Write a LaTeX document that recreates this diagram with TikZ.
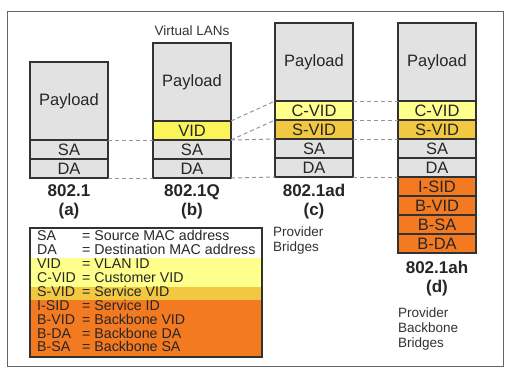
\documentclass[tikz,border=0pt]{standalone}
\usepackage{fontspec}
\setmainfont{Liberation Sans}
\usepackage{tikz}
\usetikzlibrary{positioning}
\definecolor{framegray}{RGB}{100,100,100}
\definecolor{edgegray}{RGB}{50,50,50}
\definecolor{payloadgray}{RGB}{226,226,226}
\definecolor{vidyellow}{RGB}{250,244,90}
\definecolor{cvidyellow}{RGB}{255,255,140}
\definecolor{svidgold}{RGB}{242,200,66}
\definecolor{backboneorange}{RGB}{244,122,34}
\definecolor{dashgray}{RGB}{150,150,150}

\begin{document}
\begin{tikzpicture}[x=1pt, y=-1pt,
    field/.style={draw=edgegray, line width=1.2pt, minimum width=78pt, minimum height=19pt,
      inner sep=0pt, outer sep=0pt, font=\fontsize{16.5}{16.5}\selectfont, text=black!85},
    payload/.style={field, fill=payloadgray, minimum height=78pt},
    hdr/.style={field, fill=payloadgray},
    link/.style={dashgray, dash pattern=on 4pt off 3pt, line width=1pt},
    stdlabel/.style={font=\fontsize{17}{19}\selectfont\bfseries, align=center, inner sep=0pt, text=black!85},
    note/.style={font=\fontsize{13.5}{15}\selectfont, align=left, inner sep=0pt, text=black!80},
    legendtxt/.style={font=\fontsize{14.2}{14}\selectfont, inner sep=0pt, anchor=base west, text=black!85}]
  \useasboundingbox (0,0) rectangle (516,375);
  \fill[white] (0,0) rectangle (516,375);
  \draw[framegray, line width=1pt] (7,11) rectangle (503,366);

  % (a) 802.1
  \node[payload] (a-pay) at (69,101) {Payload};
  \node[hdr, below=0pt of a-pay] (a-sa) {SA};
  \node[hdr, below=0pt of a-sa] (a-da) {DA};
  \node[stdlabel, below=6.5pt of a-da] (a-std) {802.1\\(a)};

  % (b) 802.1Q
  \node[payload] (b-pay) at (192,82) {Payload};
  \node[field, fill=vidyellow, below=0pt of b-pay] (b-vid) {VID};
  \node[hdr, below=0pt of b-vid] (b-sa) {SA};
  \node[hdr, below=0pt of b-sa] (b-da) {DA};
  \node[stdlabel, below=6.5pt of b-da] (b-std) {802.1Q\\(b)};
  \node[note, above=7pt of b-pay] (b-note) {Virtual LANs};

  % (c) 802.1ad
  \node[payload] (c-pay) at (314,62) {Payload};
  \node[field, fill=cvidyellow, below=0pt of c-pay] (c-cvid) {C-VID};
  \node[field, fill=svidgold, below=0pt of c-cvid] (c-svid) {S-VID};
  \node[hdr, below=0pt of c-svid] (c-sa) {SA};
  \node[hdr, below=0pt of c-sa] (c-da) {DA};
  \node[stdlabel, below=6.5pt of c-da] (c-std) {802.1ad\\(c)};
  \node[note, anchor=north west] (c-note) at (273,227) {Provider\\Bridges};

  % (d) 802.1ah
  \node[payload] (d-pay) at (437,62) {Payload};
  \node[field, fill=cvidyellow, below=0pt of d-pay] (d-cvid) {C-VID};
  \node[field, fill=svidgold, below=0pt of d-cvid] (d-svid) {S-VID};
  \node[hdr, below=0pt of d-svid] (d-sa) {SA};
  \node[hdr, below=0pt of d-sa] (d-da) {DA};
  \node[field, fill=backboneorange, below=0pt of d-da] (d-isid) {I-SID};
  \node[field, fill=backboneorange, below=0pt of d-isid] (d-bvid) {B-VID};
  \node[field, fill=backboneorange, below=0pt of d-bvid] (d-bsa) {B-SA};
  \node[field, fill=backboneorange, below=0pt of d-bsa] (d-bda) {B-DA};
  \node[stdlabel, below=8pt of d-bda] (d-std) {802.1ah\\(d)};
  \node[note, anchor=north west] (d-note) at (398,308) {Provider\\Backbone\\Bridges};

  % dashed guides
  \draw[link] (a-sa.north east) -- (b-sa.north west);
  \draw[link] (a-da.south east) -- (b-da.south west);
  \draw[link] (b-vid.north east) -- (c-cvid.north west);
  \draw[link] (b-vid.south east) -- (c-svid.north west);
  \draw[link] (b-sa.north east) -- (c-sa.north west);
  \draw[link] (b-da.south east) -- (c-da.south west);
  \draw[link] (c-cvid.north east) -- (d-cvid.north west);
  \draw[link] (c-svid.north east) -- (d-svid.north west);
  \draw[link] (c-sa.north east) -- (d-sa.north west);
  \draw[link] (c-da.south east) -- (d-da.south west);

  % legend
  \fill[white] (30,228) rectangle (262,258);
  \fill[cvidyellow] (30,258) rectangle (262,287);
  \fill[svidgold] (30,287) rectangle (262,300);
  \fill[backboneorange] (30,300) rectangle (262,357);
  \draw[edgegray, line width=1.2pt] (30,228) rectangle (262,357);
  \foreach \k/\d [count=\i] in {SA/Source MAC address, DA/Destination MAC address,
      VID/VLAN ID, C-VID/Customer VID, S-VID/Service VID, I-SID/Service ID,
      B-VID/Backbone VID, B-DA/Backbone DA, B-SA/Backbone SA} {
    \node[legendtxt] (key-\i) at (37, 227+13.875*\i) {\k};
    \node[legendtxt] (def-\i) at (82, 227+13.875*\i) {= \d};
  }
\end{tikzpicture}
\end{document}
